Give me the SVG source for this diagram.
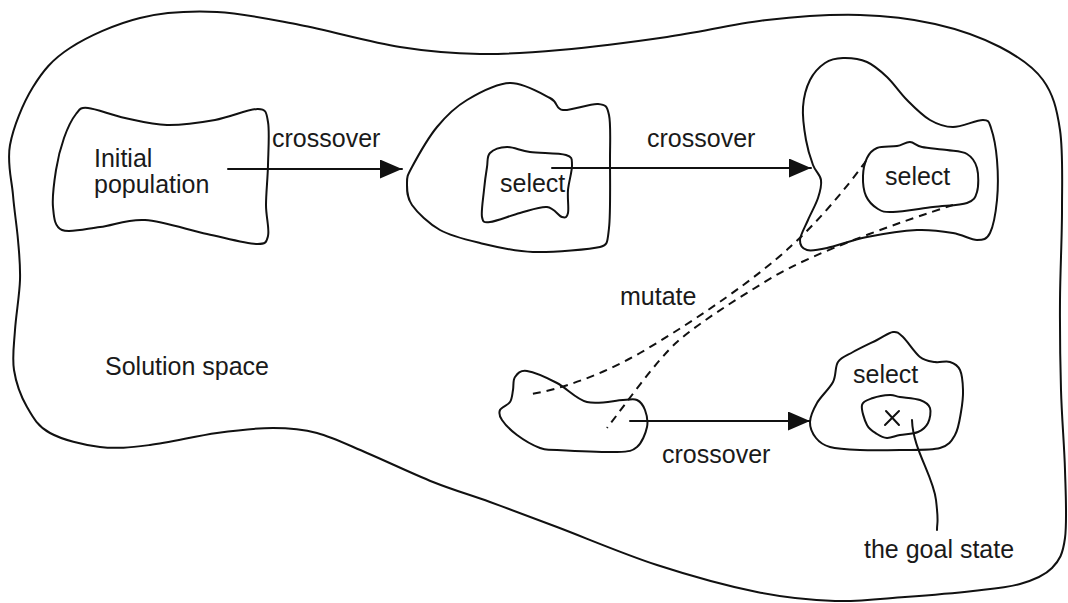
<svg xmlns="http://www.w3.org/2000/svg" width="1068" height="603" viewBox="0 0 1068 603">
<style>
.ln{fill:none;stroke:#111;stroke-width:2;stroke-linejoin:round;stroke-linecap:round}
.ds{fill:none;stroke:#111;stroke-width:2;stroke-dasharray:8 6}
.t{font-family:"Liberation Sans",Arial,sans-serif;font-size:25px;fill:#1a1a1a}
</style>
<defs>
<marker id="ah" markerUnits="userSpaceOnUse" markerWidth="23" markerHeight="20" refX="22" refY="9.5" orient="auto">
<path d="M0,0 L22,9.5 L0,19 Z" fill="#111"/>
</marker>
</defs>
<rect width="1068" height="603" fill="#fff"/>
<g id="solution-space">
<path class="ln" d="M10,145 C13.3,127 23,103.2 33,87 S52.2,59.5 70,48 S115.5,24 140,18 S190.3,10.8 217,12 S269.5,19.2 300,25 S370,42.2 400,47 S453.3,53.5 480,54 S528.8,52.8 560,50 S632.5,42 667,37 S734.8,23.7 767,20 S832,14.3 860,15 S911.7,18.7 935,24 S982,37.7 1000,47 S1033,66.2 1043,80 S1056.8,108.3 1060,130 S1062,181.7 1062,210 S1060.2,270 1060,300 S1060.2,361.7 1061,390 S1064.3,445.3 1065,470 S1067.2,521.7 1065,538 S1059.5,560.3 1052,568 S1033.2,580.2 1020,584 S992.2,588.8 973,591 S928,595.3 905,597 S859.7,601.8 835,601 S786.7,598 757,592 S690.3,575.8 657,565 S584.8,537.5 557,527 S510.7,509.5 490,502 S453.5,490.2 433,482 S386.3,461.2 367,453 S332.7,437.2 317,433 S289.7,428 273,428 S237.5,430.2 217,433 S169.5,442.7 150,445 S116.7,449 100,447 S62.2,439.7 50,433 S33,417.5 27,407 S16,382.8 14,370 S14,345 15,330 S19.5,295 20,280 S19.2,254.2 18,240 S14.3,210.8 13,195 S6.7,163 10,145 Z"/>
<text class="t" x="105" y="375">Solution space</text>
</g>
<g id="initial-population">
<path class="ln" d="M88,108 C96.2,108.7 111.8,115.2 125,118 S152,124.7 167,125 S199.8,122.7 215,120 S249.2,108.7 258,109 S266.3,112.7 268,122 S268.3,151.2 268,165 S266,193.2 266,205 S269.7,229.5 268,236 S266.2,244.3 256,244 S225.5,238 207,234 S162.8,221.2 145,220 S113.8,225.3 100,227 S69.8,233.3 62,230 S54,217 53,207 S54.2,181.5 56,170 S60.7,147.3 64,138 S72,119 76,114 S79.8,107.3 88,108 Z"/>
<text class="t" x="94" y="167">Initial</text>
<text class="t" x="94" y="193">population</text>
</g>
<g id="population-2">
<path class="ln" d="M412,167 C417,157.7 427.8,138.2 437,127 S454.8,107.3 467,100 S496.2,83.3 510,83 S541.2,93.5 550,98 S555,109 563,110 S590.3,103.2 598,104 S607,105.7 609,115 S610,140.3 610,160 S610.7,213.5 609,228 S608,245 600,247 S553,252.7 533,252 S495.5,246.7 480,243 S451.3,236.3 440,230 S417.5,212.8 412,205 S407,189.3 407,183 S407,176.3 412,167 Z"/>
<g id="select-2">
<path class="ln" d="M490,153 C493.3,149.7 500.3,147.2 507,147 S520.2,150.7 530,152 S559,152.8 566,155 S571.7,159.2 572,165 S568.7,182 568,190 S569,208.5 568,213 S565.5,218 562,217 S554,207.7 547,207 S529.5,210.5 520,213 S496.3,221.3 490,222 S483,222.3 482,217 S483.2,198.3 484,190 S486,173.2 487,167 S486.7,156.3 490,153 Z"/>
<text class="t" x="500" y="192">select</text>
</g>
</g>
<g id="population-3">
<path class="ln" d="M843,58 C850,57.8 859.7,58.8 867,62 S880.3,70.7 887,77 S899.8,92.8 907,100 S922.3,115.5 930,120 S944.2,127 953,127 S976.7,119.8 983,120 S988.7,121.3 991,128 S996,148 997,160 S998.2,187.8 997,200 S993.3,226.3 990,233 S983.2,240 977,240 S963,234.7 953,233 S931.3,229.3 917,230 S882,234 867,237 S837,245.8 827,248 S811.5,251.3 807,250 S799.8,245 800,240 S805,227 808,220 S815.8,204.7 818,198 S821.8,185.5 821,180 S815.5,171.7 813,165 S807.7,149.7 806,140 S802.3,117 803,107 S806.3,87.3 810,80 S819.5,66.7 825,63 S836,58.2 843,58 Z"/>
<g id="select-3">
<path class="ln" d="M867,158 C869.3,153.3 872,150 877,148 S891.5,147 897,146 S905.8,141.8 910,142 S915.8,145.7 922,147 S939.5,148.8 947,150 S962,151 967,154 S975.3,161.7 977,168 S978.7,186.2 977,192 S974.3,200.5 967,203 S945.3,205.5 933,207 S902.2,211.7 893,212 S882.5,211.7 878,209 S868.5,201.5 866,196 S862.8,182.3 863,176 S864.7,162.7 867,158 Z"/>
<text class="t" x="885" y="185">select</text>
</g>
</g>
<g id="population-4">
<path class="ln" d="M515,377 C517.3,373.8 520,370 527,371 S547,377.8 557,383 S576,399.2 587,402 S614.7,400.3 623,400 S633.3,398.3 637,400 S643.3,405.5 645,410 S648.3,420.8 647,427 S642,442.8 637,447 S630.3,451.5 617,452 S569.8,450.7 557,450 S546.7,450.5 540,448 S523.3,439.7 517,435 S504.8,424.2 502,420 S498.7,413 500,410 S507.8,405.3 510,402 S512.2,394.2 513,390 S512.7,380.2 515,377 Z"/>
</g>
<g id="population-5">
<path class="ln" d="M810,422 C810.2,416.2 813.2,409.7 817,403 S829.5,388.8 833,382 S834.7,367 838,362 S846.5,355.7 853,352 S870.3,343.3 877,340 S888.7,332.5 893,332 S898.5,332.8 903,337 S914.7,352.8 920,357 S930,361.2 935,362 S945.8,360.7 950,362 S957.8,365.3 960,370 S962.8,383 963,390 S962.3,404.5 961,412 S958.5,429 955,435 S949.2,445.5 940,448 S913.3,449.7 900,450 S871.7,450.5 860,450 S837.3,449 830,447 S819.3,442.2 816,438 S809.8,427.8 810,422 Z"/>
<text class="t" x="853" y="383">select</text>
<g id="goal">
<path class="ln" d="M862,405 C863,400.5 868.3,399.7 873,398 S885.5,395.2 890,395 S895,396.2 900,397 S915,398.2 920,400 S928.7,404.2 930,408 S930,419 928,423 S922.7,430 918,432 S905.2,434 900,435 S890.8,438.2 887,438 S880.3,436.2 877,434 S869.5,429.8 867,425 S861,409.5 862,405 Z"/>
<path class="ln" d="M886,411 L899,425 M899,411 L885,425"/>
</g>
</g>
<g id="goal-label">
<path class="ln" d="M912,420 C913,450 933,475 936,500 S937,520 937,530"/>
<text class="t" x="864" y="558">the goal state</text>
</g>
<g id="connectors">
<path class="ln" d="M228,169 L402,169" marker-end="url(#ah)"/>
<text class="t" x="272" y="147">crossover</text>
<path class="ln" d="M552,168 L811,168" marker-end="url(#ah)"/>
<text class="t" x="647" y="147">crossover</text>
<path class="ln" d="M630,421 L810,421" marker-end="url(#ah)"/>
<text class="t" x="662" y="463">crossover</text>
<path class="ds" d="M866,161 C845,190 815,225 790,247 C760,275 700,318 640,353 C600,376 560,389 532,394"/>
<path class="ds" d="M953,205 C900,222 815,252 773,277 C735,300 700,322 677,342 C655,362 625,405 607,428"/>
<text class="t" x="620" y="305">mutate</text>
</g>
</svg>
